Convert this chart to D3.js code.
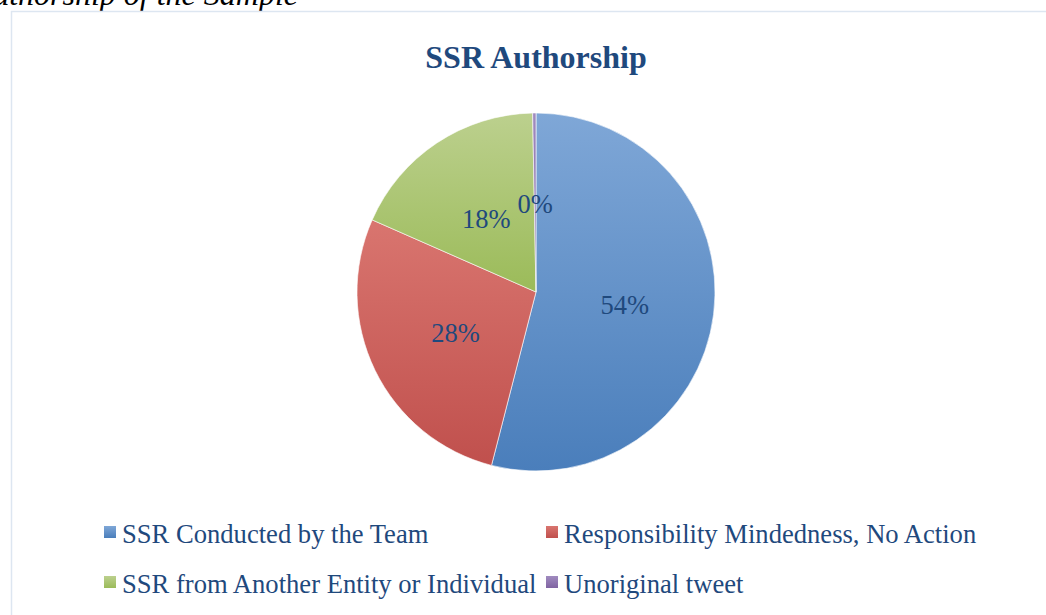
<!DOCTYPE html>
<html>
<head>
<meta charset="utf-8">
<script src="https://cdn.jsdelivr.net/npm/d3@7/dist/d3.min.js"></script>
<style>
  html, body { margin: 0; padding: 0; background: #fff; }
  svg { display: block; }
</style>
</head>
<body>
<svg id="chart" width="1046" height="615"></svg>
<script>
const categories = [
  "SSR Conducted by the Team",
  "Responsibility Mindedness, No Action",
  "SSR from Another Entity or Individual",
  "Unoriginal tweet"
];
const values = [54.0, 27.6, 18.1, 0.3];
const baseColors = ["#4a7ebb", "#c0504d", "#9bbb59", "#8064a2"];
const lightColors = ["#7fa7d7", "#d9756f", "#bcd08e", "#a08bbf"];
const chartTitle = "SSR Authorship";
const captionText = "Authorship of the Sample";

const W = 1046, H = 615;
const svg = d3.select("#chart");
const serif = "'Liberation Serif', 'Times New Roman', Times, serif";
const textColor = "#1f497d";

// gradients
const defs = svg.append("defs");
categories.forEach((c, i) => {
  const g = defs.append("linearGradient")
    .attr("id", "grad" + i)
    .attr("x1", 0).attr("y1", 0).attr("x2", 0).attr("y2", 1);
  g.append("stop").attr("offset", "0%").attr("stop-color", lightColors[i]);
  g.append("stop").attr("offset", "100%").attr("stop-color", baseColors[i]);
});

// caption fragment at top (cut off, as in the source document crop)
svg.append("text")
  .attr("x", 298).attr("y", 5)
  .attr("text-anchor", "end")
  .attr("font-family", serif)
  .attr("font-style", "italic")
  .attr("font-size", 32)
  .attr("fill", "#000")
  .text(captionText);

// chart frame
svg.append("path")
  .attr("d", `M11.5,${H} L11.5,11.5 L${W},11.5`)
  .attr("fill", "none")
  .attr("stroke", "#dde6f1")
  .attr("stroke-width", 1.5);

// title
svg.append("text")
  .attr("x", 536).attr("y", 68)
  .attr("text-anchor", "middle")
  .attr("font-family", serif)
  .attr("font-weight", "bold")
  .attr("font-size", 32)
  .attr("fill", textColor)
  .text(chartTitle);

// pie
const cx = 536, cy = 292, R = 179;
const total = d3.sum(values);
const pie = d3.pie().sort(null).value(d => d)(values);
const arc = d3.arc().innerRadius(0).outerRadius(R);
const g = svg.append("g").attr("transform", `translate(${cx},${cy})`);

g.selectAll("path.slice")
  .data(pie)
  .enter().append("path")
  .attr("class", "slice")
  .attr("d", arc)
  .attr("fill", (d, i) => `url(#grad${i})`)
  .attr("stroke", "#ffffff")
  .attr("stroke-width", 0.6);

g.selectAll("text.lbl")
  .data(pie)
  .enter().append("text")
  .attr("class", "lbl")
  .attr("transform", d => `translate(${arc.centroid(d)})`)
  .attr("dy", "0.4em")
  .attr("text-anchor", "middle")
  .attr("font-family", serif)
  .attr("font-size", 26.5)
  .attr("fill", textColor)
  .text(d => Math.round(d.data / total * 100) + "%");

// legend
const colX = [104, 546];
const rowY = [543, 593];
const leg = svg.append("g");
categories.forEach((c, i) => {
  const col = i % 2, row = Math.floor(i / 2);
  leg.append("rect")
    .attr("x", colX[col]).attr("y", rowY[row] - 17)
    .attr("width", 12).attr("height", 12)
    .attr("fill", `url(#grad${i})`);
  leg.append("text")
    .attr("x", colX[col] + 18).attr("y", rowY[row])
    .attr("font-family", serif)
    .attr("font-size", 26.6)
    .attr("fill", textColor)
    .text(c);
});
</script>
</body>
</html>
